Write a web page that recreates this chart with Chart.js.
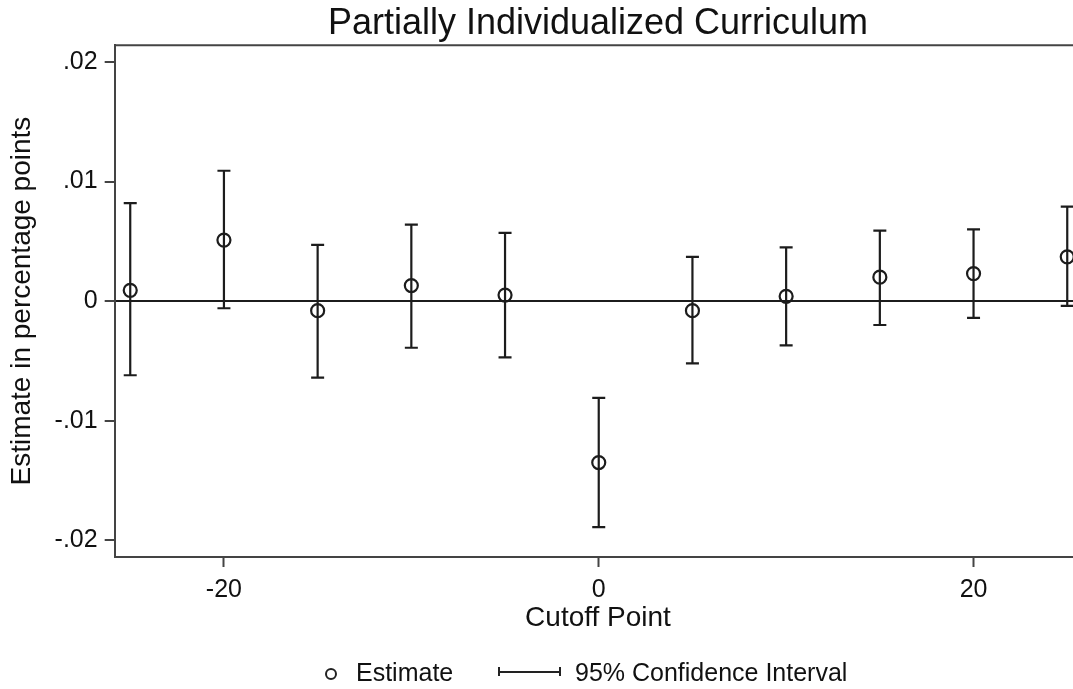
<!DOCTYPE html>
<html>
<head>
<meta charset="utf-8">
<script src="https://cdn.jsdelivr.net/npm/chart.js@4.4.1/dist/chart.umd.min.js"></script>
<style>
  body { margin: 0; background: #fff; }
  #wrap { position: relative; width: 1073px; height: 689px; overflow: hidden; }
  #myChart { position: absolute; left: 0; top: 0; }
  #legend { position: absolute; left: 0; top: 656px; width: 1073px; height: 33px;
            font-family: "Liberation Sans", Arial, sans-serif; font-size: 25px; color: #111; }
  #legend span { position: absolute; white-space: nowrap; }
</style>
</head>
<body>
<div id="wrap">
  <!-- the plot runs past the right edge of the picture, like the cropped original -->
  <canvas id="myChart" width="1090" height="689"></canvas>
  <div id="legend">
    <span style="left:325px;top:12px;width:8px;height:8px;border:2px solid #222;border-radius:50%;"></span>
    <span style="left:356px;top:0px;line-height:33px;">Estimate</span>
    <span style="left:498px;top:11px;width:59px;height:9px;border-left:2px solid #222;border-right:2px solid #222;"></span>
    <span style="left:498px;top:15px;width:63px;height:0;border-top:2px solid #222;"></span>
    <span style="left:575px;top:0px;line-height:33px;">95% Confidence Interval</span>
  </div>
</div>
<script>
// values
const cutoffs = [-25, -20, -15, -10, -5, 0, 5, 10, 15, 20, 25];
const estimates = [0.0009, 0.0051, -0.0008, 0.0013, 0.0005, -0.0135, -0.0008, 0.0004, 0.0020, 0.0023, 0.0037];
const ciLow = [-0.0062, -0.0006, -0.0064, -0.0039, -0.0047, -0.0189, -0.0052, -0.0037, -0.0020, -0.0014, -0.0004];
const ciHigh = [0.0082, 0.0109, 0.0047, 0.0064, 0.0057, -0.0081, 0.0037, 0.0045, 0.0059, 0.0060, 0.0079];

const xTicks = [-20, 0, 20];
const yTicks = [-0.02, -0.01, 0, 0.01, 0.02];
const yTickLabels = ["-.02", "-.01", "0", ".01", ".02"];

const ink = "#1c1c1c";
const axisGray = "#444";
const fontName = '"Liberation Sans", Arial, sans-serif';

// error bars + top frame line
const ciBars = {
  id: "ciBars",
  beforeDatasetsDraw(chart) {
    const ctx = chart.ctx;
    const xs = chart.scales.x;
    const ys = chart.scales.y;
    const area = chart.chartArea;
    ctx.save();
    ctx.strokeStyle = axisGray;
    ctx.lineWidth = 2;
    ctx.beginPath();
    ctx.moveTo(area.left, area.top);
    ctx.lineTo(area.right, area.top);
    ctx.stroke();

    ctx.strokeStyle = ink;
    ctx.lineWidth = 2.2;
    for (let i = 0; i < cutoffs.length; i++) {
      const px = xs.getPixelForValue(cutoffs[i]);
      const top = ys.getPixelForValue(ciHigh[i]);
      const bot = ys.getPixelForValue(ciLow[i]);
      ctx.beginPath();
      ctx.moveTo(px, top);
      ctx.lineTo(px, bot);
      ctx.moveTo(px - 6.5, top);
      ctx.lineTo(px + 6.5, top);
      ctx.moveTo(px - 6.5, bot);
      ctx.lineTo(px + 6.5, bot);
      ctx.stroke();
    }
    ctx.restore();
  },
};

const ctx = document.getElementById("myChart").getContext("2d");
const myChart = new Chart(ctx, {
  type: "scatter",
  data: {
    datasets: [
      {
        label: "Estimate",
        data: cutoffs.map((c, i) => ({ x: c, y: estimates[i] })),
        pointRadius: 6.5,
        pointBorderWidth: 2.2,
        pointBorderColor: ink,
        pointBackgroundColor: "rgba(0,0,0,0)",
        pointHoverRadius: 6.5,
        clip: false,
      },
    ],
  },
  options: {
    responsive: false,
    animation: false,
    events: [],
    layout: { padding: { left: 0, right: 0, top: 0, bottom: 57 } },
    plugins: {
      legend: { display: false },
      tooltip: { enabled: false },
      title: {
        display: true,
        fullSize: false,
        text: "Partially Individualized Curriculum",
        color: "#111",
        font: { family: fontName, size: 36, weight: "normal", lineHeight: 1.2 },
        padding: { top: 2, bottom: 0 },
      },
    },
    scales: {
      x: {
        type: "linear",
        min: -25.83,
        max: 25.75,
        afterBuildTicks: (axis) => {
          axis.ticks = xTicks.map((v) => ({ value: v }));
        },
        grid: { drawOnChartArea: false, drawTicks: true, tickLength: 10, tickColor: axisGray, tickWidth: 2 },
        border: { display: true, color: axisGray, width: 2 },
        ticks: {
          color: "#111",
          padding: 11,
          maxRotation: 0,
          font: { family: fontName, size: 25, lineHeight: 1.0 },
        },
        title: {
          display: true,
          text: "Cutoff Point",
          color: "#111",
          padding: { top: -10, bottom: 0 },
          font: { family: fontName, size: 28, lineHeight: 1.0 },
        },
      },
      y: {
        type: "linear",
        min: -0.0214,
        max: 0.0214,
        afterBuildTicks: (axis) => {
          axis.ticks = yTicks.map((v) => ({ value: v }));
        },
        grid: {
          drawOnChartArea: true,
          drawTicks: true,
          tickLength: 10,
          tickWidth: 2,
          tickColor: axisGray,
          lineWidth: 2,
          color: (c) => (c.tick && c.tick.value === 0 ? ink : "rgba(0,0,0,0)"),
        },
        border: { display: true, color: axisGray, width: 2 },
        ticks: {
          color: "#111",
          padding: 7,
          font: { family: fontName, size: 25 },
          callback: (value) => {
            const k = yTicks.findIndex((t) => Math.abs(t - value) < 1e-9);
            return k >= 0 ? yTickLabels[k] : "";
          },
        },
        title: {
          display: true,
          text: "Estimate in percentage points",
          color: "#111",
          padding: { top: 5, bottom: 9 },
          font: { family: fontName, size: 28, lineHeight: 1.2 },
        },
      },
    },
  },
  plugins: [ciBars],
});
</script>
</body>
</html>
